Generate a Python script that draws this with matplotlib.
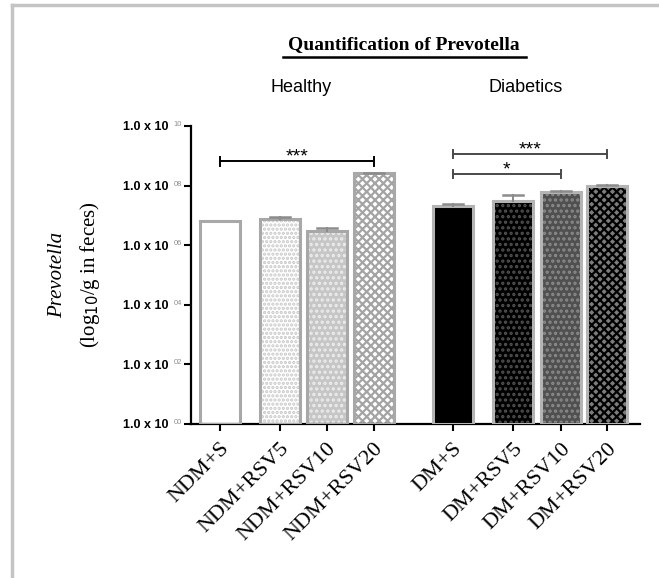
import matplotlib
matplotlib.use("Agg")
from matplotlib import pyplot as plt
from matplotlib.transforms import blended_transform_factory, offset_copy

# ---- data (log10 copies per g feces) ----
groups = ["Healthy", "Diabetics"]
labels = ["NDM+S", "NDM+RSV5", "NDM+RSV10", "NDM+RSV20",
          "DM+S", "DM+RSV5", "DM+RSV10", "DM+RSV20"]
log_mean = [6.82, 6.88, 6.49, 8.41, 7.32, 7.47, 7.80, 7.99]
log_err = [0.00, 0.06, 0.09, 0.02, 0.07, 0.22, 0.03, 0.02]
ytick_exp = ["00", "02", "04", "06", "08", "10"]

# significance brackets: (left bar, right bar, height in log10, text)
sig = [(0, 3, 8.82, "***"), (4, 7, 9.06, "***"), (4, 6, 8.39, "*")]

# ---- layout / style ----
xpos = [0.62, 1.89, 2.89, 3.89, 5.57, 6.85, 7.87, 8.85]
width = 0.84
faces = ["white", "white", "#c6c6c6", "white",
         "black", "black", "#505050", "#7c7c7c"]
hatches = [None, "....", "...", "xxxx", None, "...", "...", "xxxx"]
hatch_cols = [None, "#c8c8c8", "#ececec", "#a4a4a4",
              None, "#505050", "#8a8a8a", "black"]
edges = ["#a8a8a8"] * 4 + ["#b4b4b4"] * 4

plt.rcParams["hatch.linewidth"] = 1.6
serif = ["Liberation Serif", "DejaVu Serif"]
sans = ["Liberation Sans", "DejaVu Sans"]

fig = plt.figure(figsize=(6.59, 5.78), dpi=100)

# grey frame of the clipped figure
fig.add_artist(plt.Line2D([12 / 659, 12 / 659], [0, 1 - 5 / 578],
                          transform=fig.transFigure, color="#c4c4c4", lw=2.5))
fig.add_artist(plt.Line2D([12 / 659, 1], [1 - 5 / 578, 1 - 5 / 578],
                          transform=fig.transFigure, color="#c4c4c4", lw=2.5))

ax = fig.add_axes([191 / 659, 1 - 424 / 578, 449 / 659, 298 / 578])
ax.set_yscale("log")
ax.set_ylim(1, 1e10)
ax.set_xlim(0, 9.55)

vals = [10 ** m for m in log_mean]
for i in range(len(labels)):
    ax.bar(xpos[i], vals[i], width, bottom=1, color=faces[i],
           hatch=hatches[i], edgecolor=hatch_cols[i] or faces[i], lw=0,
           zorder=2)
    ax.bar(xpos[i], vals[i], width, bottom=1, fill=False,
           edgecolor=edges[i], lw=2.2, zorder=3)
    if log_err[i] > 0:
        top = 10 ** (log_mean[i] + log_err[i])
        ax.plot([xpos[i], xpos[i]], [vals[i], top], color="#8c8c8c",
                lw=1.5, zorder=4)
        ax.plot([xpos[i] - 0.22, xpos[i] + 0.22], [top, top],
                color="#8c8c8c", lw=1.8, zorder=4)

for a, b, h, txt in sig:
    col = "black" if a < 4 else "#4a4a4a"
    y = 10 ** h
    ax.plot([xpos[a], xpos[b]], [y, y], color=col, lw=1.4, clip_on=False)
    for j in (a, b):
        ax.plot([xpos[j], xpos[j]], [y / 10 ** 0.15, y * 10 ** 0.15],
                color=col, lw=1.4, clip_on=False)
    ax.text((xpos[a] + xpos[b]) / 2, y, txt, ha="center", va="baseline",
            fontsize=14, family=sans, clip_on=False)

# y ticks: "1.0 x 10" with a small grey exponent
yt = [10 ** int(e) for e in ytick_exp]
ax.set_yticks(yt)
ax.set_yticks([], minor=True)
ax.set_yticklabels(["1.0 x 10"] * len(yt), family=sans, fontsize=9,
                   fontweight="bold")
ax.tick_params(axis="y", direction="out", length=5, width=1.5, pad=11.5)
trans = offset_copy(blended_transform_factory(ax.transAxes, ax.transData),
                    fig=fig, x=-13, y=1.5, units="dots")
for e, v in zip(ytick_exp, yt):
    ax.text(0, v, e, transform=trans, ha="center", va="center",
            fontsize=5.5, family=sans, color="#909090", clip_on=False)

ax.set_xticks(xpos)
ax.set_xticklabels(labels, rotation=45, ha="right", rotation_mode="anchor",
                   family=serif, fontsize=16)
ax.tick_params(axis="x", direction="out", length=5, width=1.5, pad=6)
for s in ("top", "right"):
    ax.spines[s].set_visible(False)
for s in ("left", "bottom"):
    ax.spines[s].set_linewidth(1.6)

# titles and group captions
fig.text(404 / 659, 1 - 45 / 578, "Quantification of Prevotella",
         ha="center", va="center", family=serif, fontweight="bold",
         fontsize=14)
fig.add_artist(plt.Line2D([283 / 659, 526 / 659], [1 - 57 / 578, 1 - 57 / 578],
                          transform=fig.transFigure, color="black", lw=1.8))
fig.text(301 / 659, 1 - 88 / 578, groups[0], ha="center", va="center",
         family=sans, fontsize=13)
fig.text(526 / 659, 1 - 88 / 578, groups[1], ha="center", va="center",
         family=sans, fontsize=13)

fig.text(58 / 659, 1 - 275 / 578, "Prevotella", rotation=90, ha="center",
         va="center", family=serif, style="italic", fontsize=15)
fig.text(90 / 659, 1 - 275 / 578, r"(log$_{10}$/g in feces)", rotation=90,
         ha="center", va="center", family=serif, fontsize=15)

fig.savefig("out.png", dpi=100)
